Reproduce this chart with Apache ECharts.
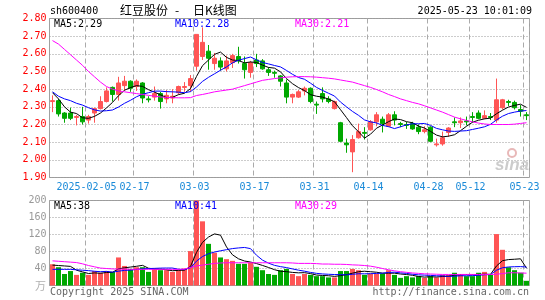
<!DOCTYPE html>
<html><head><meta charset="utf-8">
<script src="https://cdn.jsdelivr.net/npm/echarts@6/dist/echarts.min.js"></script>
<style>html,body{margin:0;padding:0;background:#fff}#c{width:545px;height:300px}</style>
</head><body><div id="c"></div>
<script>
const dates = ['2025-01-20','2025-01-21','2025-01-22','2025-01-23','2025-01-24','2025-01-27',
'2025-02-05','2025-02-06','2025-02-07','2025-02-10','2025-02-11','2025-02-12','2025-02-13','2025-02-14','2025-02-17','2025-02-18','2025-02-19','2025-02-20','2025-02-21','2025-02-24','2025-02-25','2025-02-26','2025-02-27','2025-02-28',
'2025-03-03','2025-03-04','2025-03-05','2025-03-06','2025-03-07','2025-03-10','2025-03-11','2025-03-12','2025-03-13','2025-03-14','2025-03-17','2025-03-18','2025-03-19','2025-03-20','2025-03-21','2025-03-24','2025-03-25','2025-03-26','2025-03-27','2025-03-28','2025-03-31',
'2025-04-01','2025-04-02','2025-04-03','2025-04-07','2025-04-08','2025-04-09','2025-04-10','2025-04-11','2025-04-14','2025-04-15','2025-04-16','2025-04-17','2025-04-18','2025-04-21','2025-04-22','2025-04-23','2025-04-24','2025-04-25','2025-04-28','2025-04-29','2025-04-30',
'2025-05-06','2025-05-07','2025-05-08','2025-05-09','2025-05-12','2025-05-13','2025-05-14','2025-05-15','2025-05-16','2025-05-19','2025-05-20','2025-05-21','2025-05-22','2025-05-23'];

const openP = [2.33,2.335,2.265,2.265,2.24,2.245,2.225,2.265,2.29,2.33,2.41,2.37,2.42,2.445,2.415,2.435,2.345,2.355,2.375,2.345,
2.35,2.38,2.41,2.42,2.53,2.585,2.615,2.545,2.56,2.515,2.55,2.585,2.545,2.495,2.565,2.56,2.51,2.495,2.475,2.435,
2.355,2.355,2.39,2.405,2.315,2.375,2.345,2.29,2.21,2.095,2.045,2.125,2.155,2.17,2.215,2.23,2.19,2.255,2.205,2.20,
2.205,2.185,2.16,2.185,2.085,2.09,2.155,2.215,2.21,2.22,2.245,2.265,2.235,2.245,2.225,2.295,2.33,2.325,2.285,2.255];
const closeP = [2.335,2.26,2.235,2.235,2.245,2.215,2.245,2.29,2.33,2.39,2.37,2.435,2.445,2.405,2.445,2.35,2.34,2.375,2.33,2.365,
2.36,2.415,2.415,2.46,2.71,2.665,2.575,2.575,2.525,2.56,2.59,2.56,2.51,2.55,2.545,2.515,2.495,2.49,2.445,2.355,
2.37,2.385,2.405,2.33,2.31,2.345,2.33,2.33,2.105,2.085,2.115,2.16,2.15,2.215,2.255,2.205,2.255,2.225,2.20,2.195,
2.175,2.16,2.17,2.105,2.09,2.125,2.18,2.21,2.22,2.215,2.24,2.235,2.25,2.24,2.34,2.34,2.325,2.295,2.275,2.25];
const highP = [2.365,2.345,2.27,2.295,2.255,2.30,2.255,2.295,2.36,2.41,2.415,2.47,2.475,2.45,2.455,2.44,2.36,2.415,2.385,2.395,
2.40,2.42,2.44,2.48,2.71,2.75,2.65,2.605,2.58,2.59,2.60,2.64,2.585,2.56,2.60,2.57,2.525,2.505,2.48,2.455,
2.375,2.395,2.415,2.41,2.33,2.41,2.36,2.335,2.215,2.12,2.14,2.205,2.185,2.225,2.27,2.245,2.265,2.275,2.215,2.215,
2.215,2.20,2.19,2.19,2.12,2.16,2.185,2.24,2.24,2.245,2.27,2.28,2.28,2.265,2.46,2.345,2.34,2.335,2.31,2.27];
const lowP = [2.27,2.245,2.21,2.225,2.195,2.20,2.205,2.21,2.285,2.325,2.33,2.335,2.39,2.385,2.39,2.32,2.325,2.335,2.29,2.32,
2.32,2.37,2.385,2.385,2.505,2.565,2.51,2.51,2.505,2.50,2.52,2.545,2.46,2.465,2.525,2.51,2.475,2.465,2.415,2.32,
2.32,2.35,2.365,2.32,2.26,2.325,2.32,2.285,2.10,2.04,1.93,2.12,2.115,2.165,2.19,2.155,2.185,2.195,2.185,2.175,
2.17,2.145,2.15,2.10,2.075,2.08,2.13,2.185,2.18,2.195,2.21,2.23,2.23,2.225,2.21,2.285,2.305,2.285,2.245,2.225];

const ma5 = [2.38,2.345,2.30,2.27,2.262,2.238,2.235,2.246,2.265,2.294,2.325,2.363,2.394,2.409,2.42,2.416,2.397,2.383,2.368,2.352,
2.354,2.369,2.377,2.403,2.472,2.533,2.565,2.597,2.61,2.58,2.565,2.562,2.549,2.554,2.551,2.536,2.523,2.519,2.498,2.46,
2.431,2.409,2.392,2.369,2.36,2.355,2.344,2.329,2.284,2.239,2.193,2.159,2.123,2.145,2.179,2.197,2.216,2.231,2.228,2.216,
2.21,2.191,2.18,2.161,2.14,2.13,2.134,2.142,2.165,2.19,2.213,2.224,2.232,2.236,2.261,2.281,2.299,2.308,2.315,2.297];
const ma10 = [2.385,2.36,2.345,2.335,2.32,2.31,2.295,2.283,2.276,2.278,2.282,2.299,2.32,2.337,2.357,2.371,2.38,2.389,2.389,2.386,
2.385,2.383,2.38,2.386,2.412,2.444,2.467,2.487,2.507,2.526,2.549,2.564,2.573,2.582,2.566,2.551,2.543,2.534,2.526,2.506,
2.484,2.466,2.456,2.434,2.41,2.393,2.377,2.361,2.327,2.30,2.274,2.252,2.226,2.215,2.209,2.195,2.188,2.177,2.187,2.198,
2.204,2.204,2.206,2.195,2.178,2.17,2.163,2.161,2.163,2.165,2.172,2.179,2.187,2.201,2.226,2.247,2.262,2.27,2.276,2.279];
const ma30 = [2.675,2.655,2.625,2.595,2.565,2.535,2.50,2.47,2.44,2.415,2.40,2.39,2.385,2.38,2.375,2.37,2.365,2.36,2.356,2.353,
2.352,2.351,2.351,2.352,2.364,2.37,2.377,2.385,2.39,2.395,2.40,2.41,2.42,2.43,2.44,2.45,2.455,2.46,2.464,2.468,
2.47,2.471,2.471,2.47,2.468,2.465,2.462,2.458,2.452,2.446,2.44,2.43,2.42,2.41,2.398,2.385,2.37,2.358,2.345,2.335,
2.325,2.317,2.306,2.294,2.282,2.27,2.256,2.242,2.232,2.223,2.215,2.208,2.203,2.20,2.20,2.20,2.20,2.202,2.206,2.21];

const volume = [50,43,27,34,25,30,25,34,30,34,32,66,46,39,43,43,32,38,36,36,
32,36,40,81,200,151,98,77,66,62,58,51,51,54,44,36,27,25,36,39,
27,22,27,25,22,22,19,19,34,34,39,36,25,28,28,28,36,25,18,22,
19,22,18,22,19,25,25,30,27,22,22,30,32,25,121,84,43,36,30,11];
const volMa5 = [48,47,46,45,36,32,28.2,29.6,28.8,30.6,31,39.2,41.6,43.4,45.2,47.4,40.6,39,38.4,37,
34.8,35.6,36,45,77.8,101.6,114,121.4,118.4,90.8,72.2,62.8,57.6,55.2,51.6,47.2,42.4,37.2,33.6,32.6,
30.8,29.8,30.2,28,24.6,23.6,23,21.4,23.2,25.6,29,32.4,33.6,32.4,31.2,29,29,29,27,25.8,
24,21.2,19.8,20.6,20,21.2,21.8,24.2,25.2,25.8,25.2,26.2,26.6,26.2,46,58.4,61,61.8,62.8,40.8];
const volMa10 = [38,38,38,38,37,36,35,33.5,32.5,33.2,31.4,33.7,35.6,36.1,37.9,39.2,39.9,40.3,40.9,41.1,
41.1,38.1,37.5,41.7,57.4,68.2,74.8,78.7,81.7,84.3,86.9,88.4,89.5,86.8,71.2,59.7,52.6,47.4,44.4,42.1,
39,36.1,33.7,30.8,28.6,27.2,26.4,25.8,25.6,25.1,26.3,27.7,27.5,27.8,28.4,29,30.7,31.3,29.7,28.5,
26.5,25.1,24.4,23.8,22.9,22.6,21.5,22,22.9,22.9,23.2,24,25.4,25.7,35.9,41.8,43.6,44.2,44.5,43.4];
const volMa30 = [58,57,56,55,54,51,47,44,41,40,39,38.5,38.5,38,38,38,38,38,38,38,
38,38,38.5,42.5,46,48,50,52,53,53.5,53.5,53.5,53.5,53.5,53.5,53.5,53.5,53.5,53.5,53.5,
53,52,52,52,51.5,50.5,50.5,50,50,49.5,48.5,48,47,45.5,43,40,37,34.5,32.5,31,
29.5,28.5,27.5,27,26.5,26,26,26,26,26,26,26,26,26,26.5,28,30,30,29.5,29];

const tickDates = ['2025-02-05','2025-02-17','2025-03-03','2025-03-17','2025-03-31','2025-04-14','2025-04-28','2025-05-12','2025-05-23'];
const tickLabels = ['2025-02-05','02-17','03-03','03-17','03-31','04-14','04-28','05-12','05-23'];
const priceLegend = ['MA5:2.29','MA10:2.28','MA30:2.21'];
const volLegend = ['MA5:38','MA10:41','MA30:29'];

const UP = '#ff5555', DOWN = '#00a800';
const MONO = '"DejaVu Sans Mono", monospace';
const isTick = (i) => tickDates.indexOf(dates[i]) >= 0;
const splitL = {show: true, interval: (i) => isTick(i), lineStyle: {color: '#aaaaaa', width: 1, type: [5, 3]}};

const kData = dates.map((d, i) => [openP[i], closeP[i], lowP[i], highP[i]]);
const vData = volume.map((v, i) => ({value: v, itemStyle: {color: closeP[i] >= openP[i] ? UP : DOWN}}));

function lineS(name, data, color, xi) {
  return {name, type: 'line', data, xAxisIndex: xi, yAxisIndex: xi, symbol: 'none', silent: true,
    lineStyle: {color, width: 1}, itemStyle: {color}, z: 5, animation: false};
}
function txt(text, x, y, fill, font, align) {
  return {type: 'text', x, y, silent: true, z: 100,
    style: {text, fill, font: font || ('10px ' + MONO), textAlign: align || 'left', textVerticalAlign: 'middle'}};
}

const chart = echarts.init(document.getElementById('c'), null, {renderer: 'canvas'});
chart.setOption({
  animation: false,
  backgroundColor: '#ffffff',
  grid: [
    {left: 49.5, top: 18.5, width: 480, height: 159, show: true, borderColor: '#a0a0a0', borderWidth: 1, backgroundColor: 'transparent'},
    {left: 49.5, top: 200.5, width: 480, height: 85, show: true, borderColor: '#a0a0a0', borderWidth: 1, backgroundColor: 'transparent'}
  ],
  xAxis: [
    {type: 'category', gridIndex: 0, data: dates, boundaryGap: true,
      axisLine: {show: false}, axisTick: {show: false},
      axisLabel: {interval: (i) => isTick(i), formatter: (v) => tickLabels[tickDates.indexOf(v)] || '',
        color: '#1a8ad8', fontFamily: MONO, fontSize: 10, margin: 5, padding: [0, 4, 0, 0]},
      splitLine: splitL},
    {type: 'category', gridIndex: 1, data: dates, boundaryGap: true,
      axisLine: {show: false}, axisTick: {show: false}, axisLabel: {show: false},
      splitLine: splitL}
  ],
  yAxis: [
    {type: 'value', gridIndex: 0, min: 1.9, max: 2.8, interval: 0.1,
      axisLine: {show: false}, axisTick: {show: false},
      axisLabel: {color: '#ff0000', fontFamily: MONO, fontSize: 10, margin: 3, formatter: (v) => v.toFixed(2)},
      splitLine: {show: true, lineStyle: {color: '#999999', width: 1, type: [1, 2]}}},
    {type: 'value', gridIndex: 1, min: 0, max: 200, interval: 40,
      axisLine: {show: false}, axisTick: {show: false},
      axisLabel: {color: '#999999', fontFamily: MONO, fontSize: 10, margin: 3, formatter: (v) => v === 0 ? '' : String(v)},
      splitLine: {show: true, lineStyle: {color: '#999999', width: 1, type: [1, 2]}}}
  ],
  series: [
    {type: 'candlestick', xAxisIndex: 0, yAxisIndex: 0, data: kData, barWidth: 4, silent: true,
      itemStyle: {color: UP, color0: DOWN, borderColor: UP, borderColor0: DOWN, borderWidth: 1}},
    lineS('MA5', ma5, '#000000', 0),
    lineS('MA10', ma10, '#0000ff', 0),
    lineS('MA30', ma30, '#ff00ff', 0),
    {type: 'bar', xAxisIndex: 1, yAxisIndex: 1, data: vData, barWidth: 5, silent: true},
    lineS('VMA5', volMa5, '#000000', 1),
    lineS('VMA10', volMa10, '#0000ff', 1),
    lineS('VMA30', volMa30, '#ff00ff', 1)
  ],
  graphic: [
    txt('sh600400', 50, 11, '#000000'),
    txt('红豆股份', 120, 10, '#000000', '12px "Noto Sans CJK SC"'),
    txt('-', 175, 10, '#000000', '12px "Noto Sans CJK SC"'),
    txt('日K线图', 193, 10, '#000000', '12px "Noto Sans CJK SC"'),
    txt('2025-05-23 10:01:09', 532, 11, '#000000', null, 'right'),
    txt(priceLegend[0], 54, 24.5, '#000000'),
    txt(priceLegend[1], 175, 24.5, '#0000ff'),
    txt(priceLegend[2], 295, 24.5, '#ff00ff'),
    txt(volLegend[0], 54, 206.5, '#000000'),
    txt(volLegend[1], 175, 206.5, '#0000ff'),
    txt(volLegend[2], 295, 206.5, '#ff00ff'),
    txt('万', 46, 286, '#b0b0b0', '11px "Noto Sans CJK SC"', 'right'),
    txt('Copyright 2025 SINA.COM', 50, 292.5, '#666666'),
    txt('http://finance.sina.com.cn', 529, 292.5, '#666666', null, 'right'),
    {type: 'circle', shape: {cx: 512, cy: 153, r: 4}, silent: true, z: 0,
      style: {fill: 'none', stroke: '#e8b8b8', lineWidth: 2}},
    txt('sina', 512, 165, '#cccccc', 'italic bold 17px "Liberation Sans"', 'center')
  ]
});
</script></body></html>
